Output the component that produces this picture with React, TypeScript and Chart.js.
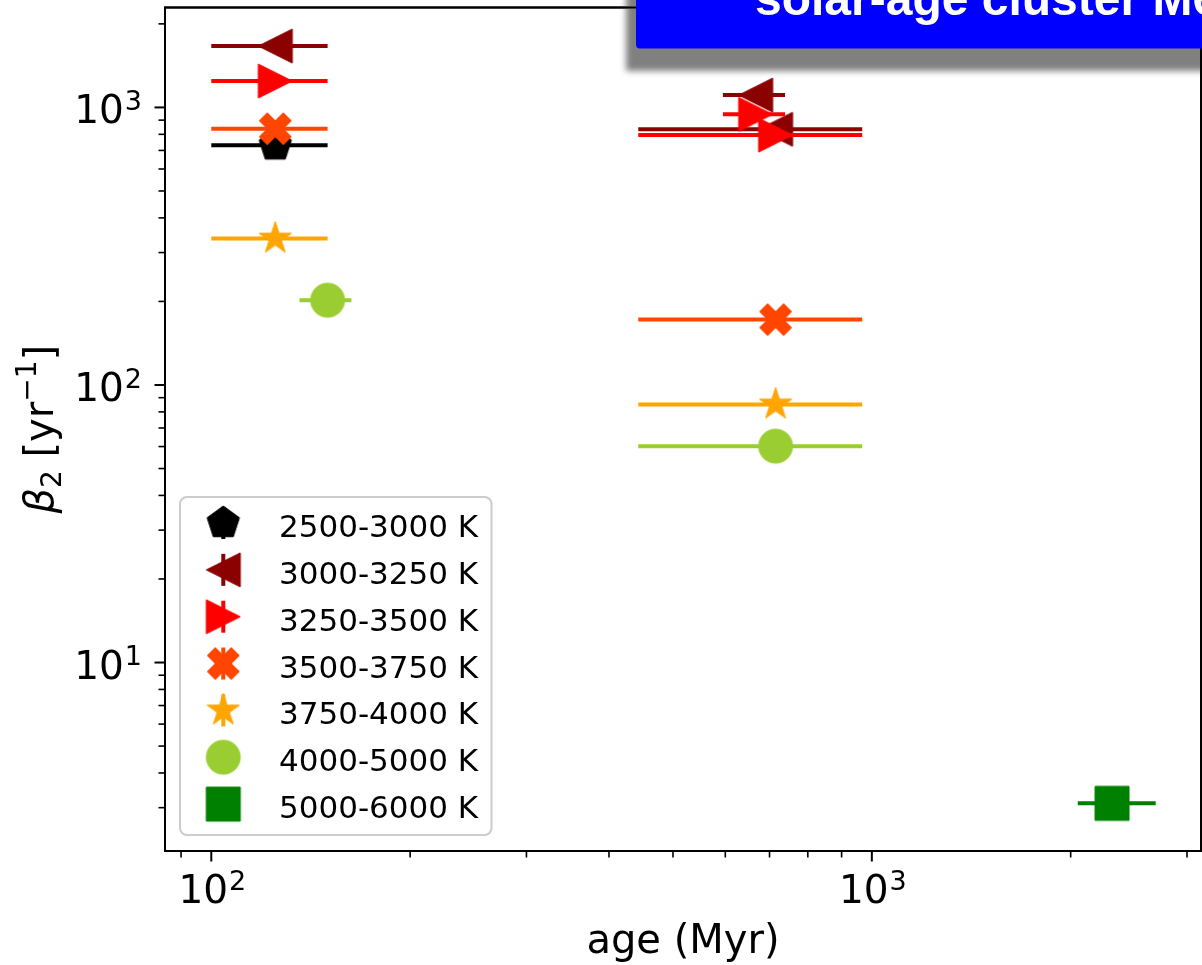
import React, { useEffect, useRef } from 'react';
import { Chart, registerables } from 'chart.js';

Chart.register(...registerables);

// ---------------- data ----------------
const seriesLabels = ['2500-3000 K', '3000-3250 K', '3250-3500 K', '3500-3750 K', '3750-4000 K', '4000-5000 K', '5000-6000 K'];
const seriesColors = ['#000000', '#8b0000', '#ff0000', '#ff4500', '#ffa500', '#9acd32', '#008000'];
const seriesMarkers = ['pentagon', 'triangleLeft', 'triangleRight', 'xFilled', 'star', 'circle', 'square'];

// age (Myr) of each point, with the ends of its horizontal error bar
const ageMyr = [[125], [125, 667, 715], [125, 667, 715], [125, 715], [125, 715], [150, 715], [2310]];
const ageLow = [[100], [100, 595, 443], [100, 595, 443], [100, 443], [100, 443], [136, 443], [2050]];
const ageHigh = [[150], [150, 739, 967], [150, 739, 967], [150, 967], [150, 967], [163, 967], [2690]];
// beta_2 [yr^-1]
const beta2 = [[730], [1664, 1108, 834], [1245, 944, 795], [838, 172], [337, 85.1], [202, 60.2], [3.11]];

const xTickValues = [90, 100, 200, 300, 400, 500, 600, 700, 800, 900, 1000, 2000, 3000];
const yTickValues = [3, 4, 5, 6, 7, 8, 9, 10, 20, 30, 40, 50, 60, 70, 80, 90, 100, 200, 300, 400, 500, 600, 700, 800, 900, 1000, 2000];
const xRange = [85.1, 3150];
const yRange = [2.094, 2291];
const xTitle = 'age (Myr)';
const yTitleParts = [
  { t: 'β', kind: 'italic' },
  { t: '2', kind: 'sub' },
  { t: ' [yr', kind: 'normal' },
  { t: '−1', kind: 'sup' },
  { t: ']', kind: 'normal' },
];
const bannerText = 'solar-age cluster M67';

// ---------------- helpers ----------------
const FONT = '"DejaVu Sans"';
const MARKER_SIZE = 34;
const TICK_FONT = 39;
const TITLE_FONT = 40;

function isMajor(v: number) {
  const l = Math.log10(v);
  return Math.abs(l - Math.round(l)) < 1e-9;
}

function makeMarker(kind: string, color: string, size: number) {
  const pad = 4;
  const dim = size + pad * 2;
  const c = document.createElement('canvas');
  c.width = dim;
  c.height = dim;
  const g = c.getContext('2d')!;
  g.translate(dim / 2, dim / 2);
  g.fillStyle = color;
  g.strokeStyle = color;
  g.lineWidth = 1;
  const r = size / 2;
  g.beginPath();
  if (kind === 'pentagon') {
    for (let k = 0; k < 5; k++) {
      const a = -Math.PI / 2 + (k * 2 * Math.PI) / 5;
      const px = r * Math.cos(a), py = r * Math.sin(a);
      if (k === 0) g.moveTo(px, py); else g.lineTo(px, py);
    }
  } else if (kind === 'triangleLeft') {
    g.moveTo(-r, 0); g.lineTo(r, -r); g.lineTo(r, r);
  } else if (kind === 'triangleRight') {
    g.moveTo(r, 0); g.lineTo(-r, -r); g.lineTo(-r, r);
  } else if (kind === 'xFilled') {
    const pts = [[-1, -3], [1, -3], [1, -1], [3, -1], [3, 1], [1, 1], [1, 3], [-1, 3], [-1, 1], [-3, 1], [-3, -1], [-1, -1]];
    const s = Math.SQRT1_2;
    pts.forEach(([px, py], k) => {
      const X = ((px - py) * s * size) / 6;
      const Y = ((px + py) * s * size) / 6;
      if (k === 0) g.moveTo(X, Y); else g.lineTo(X, Y);
    });
  } else if (kind === 'star') {
    for (let k = 0; k < 10; k++) {
      const a = -Math.PI / 2 + (k * Math.PI) / 5;
      const rr = k % 2 === 0 ? r : r * 0.381966;
      const px = rr * Math.cos(a), py = rr * Math.sin(a);
      if (k === 0) g.moveTo(px, py); else g.lineTo(px, py);
    }
  } else if (kind === 'circle') {
    g.arc(0, 0, r, 0, Math.PI * 2);
  } else {
    g.rect(-r, -r, size, size);
  }
  g.closePath();
  g.fill();
  g.stroke();
  return c;
}

function drawFrame(chart: any) {
  const { ctx, chartArea: a } = chart;
  ctx.save();
  ctx.strokeStyle = '#000';
  ctx.lineWidth = 2;
  ctx.strokeRect(a.left, a.top, a.right - a.left, a.bottom - a.top);
  ctx.restore();
}

// draws "10" with a raised exponent; anchor: 'center' or 'right' at x, base baseline at y
function drawPow10(ctx: CanvasRenderingContext2D, v: number, x: number, y: number, anchor: string) {
  const exp = String(Math.round(Math.log10(v)));
  const baseFont = `${TICK_FONT}px ${FONT}`;
  const supFont = `${Math.round(TICK_FONT * 0.7)}px ${FONT}`;
  ctx.font = baseFont;
  const wb = ctx.measureText('10').width;
  ctx.font = supFont;
  const ws = ctx.measureText(exp).width;
  const total = wb + ws + 1;
  const x0 = anchor === 'center' ? x - total / 2 : x - total;
  ctx.textAlign = 'left';
  ctx.textBaseline = 'alphabetic';
  ctx.font = baseFont;
  ctx.fillText('10', x0, y);
  ctx.font = supFont;
  ctx.fillText(exp, x0 + wb + 1, y - TICK_FONT * 0.34);
}

export default function App() {
  const ref = useRef<HTMLCanvasElement>(null);

  useEffect(() => {
    const canvas = ref.current!;
    const markers = seriesMarkers.map((m, i) => makeMarker(m, seriesColors[i], MARKER_SIZE));

    const plugin = {
      id: 'mplLook',
      beforeDatasetDraw(chart: any, args: any) {
        const i = args.index;
        const { ctx, chartArea: a } = chart;
        const xs = chart.scales.x, ys = chart.scales.y;
        ctx.save();
        ctx.beginPath();
        ctx.rect(a.left, a.top, a.right - a.left, a.bottom - a.top);
        ctx.clip();
        ctx.strokeStyle = seriesColors[i];
        ctx.lineWidth = 4;
        ctx.lineCap = 'butt';
        beta2[i].forEach((b, j) => {
          const py = ys.getPixelForValue(b);
          ctx.beginPath();
          ctx.moveTo(xs.getPixelForValue(ageLow[i][j]), py);
          ctx.lineTo(xs.getPixelForValue(ageHigh[i][j]), py);
          ctx.stroke();
        });
        ctx.restore();
      },
      afterDatasetsDraw(chart: any) {
        const { ctx, chartArea: a } = chart;
        const xs = chart.scales.x, ys = chart.scales.y;
        drawFrame(chart);
        // tick marks and labels
        ctx.save();
        ctx.strokeStyle = '#000';
        ctx.fillStyle = '#000';
        xTickValues.forEach((v) => {
          const px = xs.getPixelForValue(v);
          const maj = isMajor(v);
          ctx.lineWidth = maj ? 2 : 1.6;
          ctx.beginPath();
          ctx.moveTo(px, a.bottom);
          ctx.lineTo(px, a.bottom + (maj ? 10.5 : 6.5));
          ctx.stroke();
          if (maj) drawPow10(ctx, v, px + 1, a.bottom + 52, 'center');
        });
        yTickValues.forEach((v) => {
          const py = ys.getPixelForValue(v);
          const maj = isMajor(v);
          ctx.lineWidth = maj ? 2 : 1.6;
          ctx.beginPath();
          ctx.moveTo(a.left, py);
          ctx.lineTo(a.left - (maj ? 10.5 : 6.5), py);
          ctx.stroke();
          if (maj) drawPow10(ctx, v, a.left - 23, py + 16, 'right');
        });
        ctx.restore();

        // y axis title (mathtext-like)
        ctx.save();
        ctx.translate(53, (a.top + a.bottom) / 2);
        ctx.rotate(-Math.PI / 2);
        ctx.fillStyle = '#000';
        ctx.textBaseline = 'alphabetic';
        ctx.textAlign = 'left';
        const fontFor = (k: string) =>
          k === 'italic' ? `italic ${TITLE_FONT}px ${FONT}` : k === 'normal' ? `${TITLE_FONT}px ${FONT}` : `${Math.round(TITLE_FONT * 0.7)}px ${FONT}`;
        const widths = yTitleParts.map((p) => {
          ctx.font = fontFor(p.kind);
          return ctx.measureText(p.t).width;
        });
        let cx = -widths.reduce((s, w) => s + w, 0) / 2;
        yTitleParts.forEach((p, k) => {
          ctx.font = fontFor(p.kind);
          const dy = p.kind === 'sub' ? TITLE_FONT * 0.2 : p.kind === 'sup' ? -TITLE_FONT * 0.42 : 0;
          ctx.fillText(p.t, cx, dy);
          cx += widths[k];
        });
        ctx.restore();

        // legend (lower left, inside the axes)
        const boxL = a.left + 15, boxR = a.left + 326.5;
        const boxB = a.bottom - 16, boxT = boxB - 338;
        ctx.save();
        ctx.beginPath();
        ctx.roundRect(boxL, boxT, boxR - boxL, boxB - boxT, 7);
        ctx.fillStyle = 'rgba(255,255,255,0.8)';
        ctx.fill();
        ctx.strokeStyle = '#cccccc';
        ctx.lineWidth = 2;
        ctx.stroke();
        ctx.font = '31px ' + FONT;
        ctx.textBaseline = 'alphabetic';
        ctx.textAlign = 'left';
        seriesLabels.forEach((lab, i) => {
          const cy = boxT + 26 + i * 46.85;
          const mx = boxL + 43.3;
          ctx.strokeStyle = seriesColors[i];
          ctx.lineWidth = 4;
          ctx.beginPath();
          ctx.moveTo(mx, cy - 16);
          ctx.lineTo(mx, cy + 16);
          ctx.stroke();
          const m = markers[i];
          ctx.drawImage(m, mx - m.width / 2, cy - m.height / 2);
          ctx.fillStyle = '#000';
          ctx.fillText(lab, boxL + 99, cy + 14);
        });
        ctx.restore();
      },
      afterDraw(chart: any) {
        const { ctx } = chart;
        // banner shadow
        ctx.save();
        ctx.filter = 'blur(3px)';
        ctx.fillStyle = '#808080';
        ctx.fillRect(626, -40, 700, 111);
        ctx.restore();
        drawFrame(chart);
        // banner box
        ctx.save();
        ctx.beginPath();
        ctx.roundRect(636, -40, 700, 88.5, 4);
        ctx.fillStyle = '#0000ff';
        ctx.fill();
        ctx.fillStyle = '#ffffff';
        ctx.font = 'bold 48px "Liberation Sans"';
        ctx.textBaseline = 'alphabetic';
        ctx.textAlign = 'left';
        ctx.fillText(bannerText, 755, 15);
        ctx.restore();
      },
    };

    const datasets = seriesLabels.map((label, i) => ({
      label,
      data: ageMyr[i].map((a, j) => ({ x: a, y: beta2[i][j] })),
      pointStyle: markers[i],
      pointRadius: MARKER_SIZE / 2,
      backgroundColor: seriesColors[i],
      borderColor: seriesColors[i],
      showLine: false,
      clip: false,
      order: seriesLabels.length - 1 - i,
    }));

    const zeroPad = (s: any) => {
      s.paddingTop = 0;
      s.paddingBottom = 0;
      s.paddingLeft = 0;
      s.paddingRight = 0;
    };

    const chart = new Chart(canvas, {
      type: 'scatter',
      data: { datasets },
      options: {
        animation: false,
        responsive: false,
        devicePixelRatio: 1,
        events: [],
        layout: { autoPadding: false, padding: { left: 0, right: 1, top: 7.5, bottom: 0 } },
        plugins: { legend: { display: false }, tooltip: { enabled: false } },
        scales: {
          x: {
            type: 'logarithmic',
            min: xRange[0],
            max: xRange[1],
            bounds: 'data',
            grid: { display: false, drawTicks: false },
            border: { display: false },
            ticks: { display: false, autoSkip: false },
            title: {
              display: true,
              text: xTitle,
              color: '#000',
              font: { family: FONT, size: TITLE_FONT, lineHeight: 1 },
              padding: { top: 0, bottom: 2 },
            },
            afterBuildTicks: (s: any) => {
              s.ticks = xTickValues.map((v) => ({ value: v }));
            },
            afterFit: (s: any) => {
              s.height = 114;
              zeroPad(s);
            },
          },
          y: {
            type: 'logarithmic',
            min: yRange[0],
            max: yRange[1],
            bounds: 'data',
            grid: { display: false, drawTicks: false },
            border: { display: false },
            ticks: { display: false, autoSkip: false },
            title: { display: false },
            afterBuildTicks: (s: any) => {
              s.ticks = yTickValues.map((v) => ({ value: v }));
            },
            afterFit: (s: any) => {
              s.width = 165;
              zeroPad(s);
            },
          },
        },
      } as any,
      plugins: [plugin],
    });
    return () => chart.destroy();
  }, []);

  return (
    <div style={{ position: 'absolute', left: 0, top: 0, width: 1202, height: 965, background: '#fff' }}>
      <canvas ref={ref} width={1202} height={965} style={{ display: 'block' }} />
    </div>
  );
}
